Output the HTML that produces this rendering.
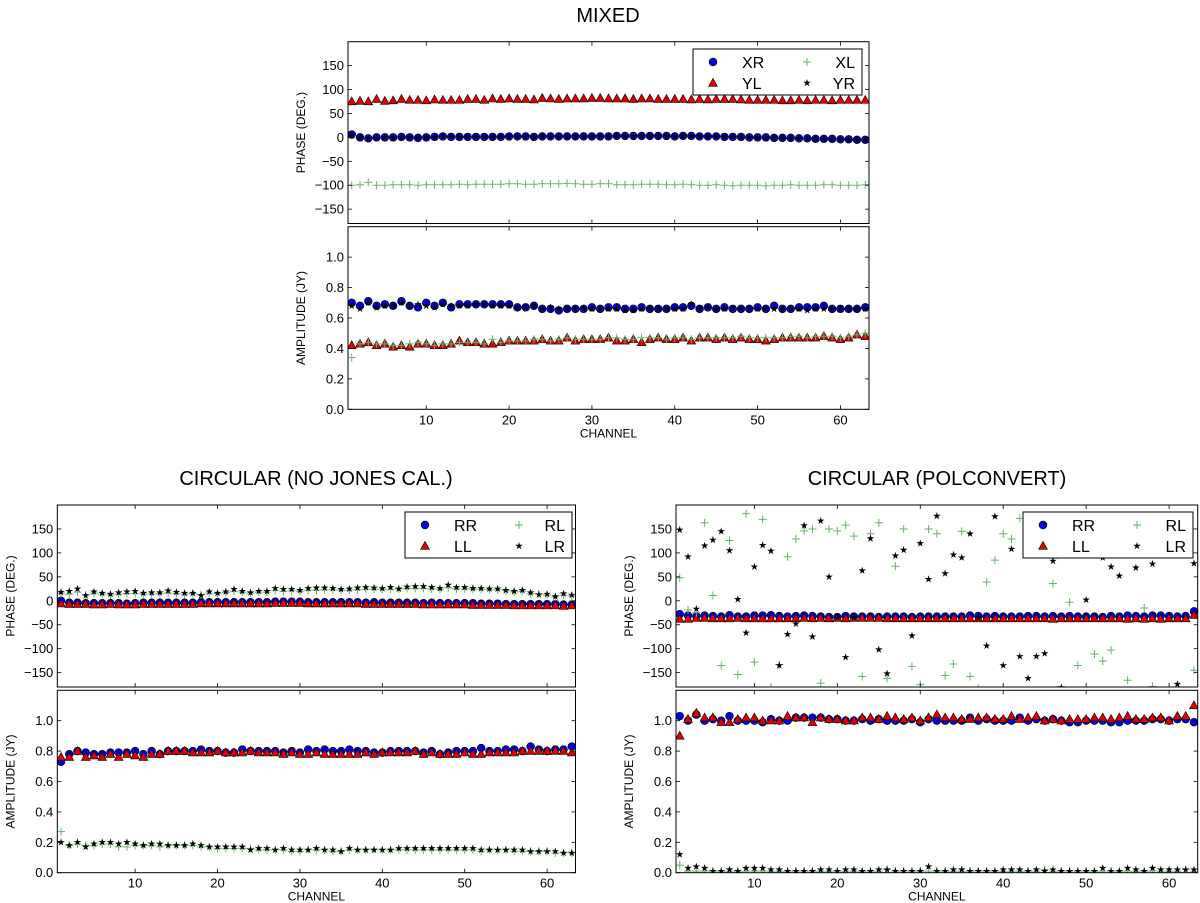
<!DOCTYPE html>
<html><head><meta charset="utf-8"><style>
body{margin:0;background:#fff;}
svg{display:block;font-family:"Liberation Sans","DejaVu Sans",sans-serif;}
</style></head><body>
<svg id="fig" width="1200" height="903" viewBox="0 0 1200 903" xmlns="http://www.w3.org/2000/svg">
<rect width="1200" height="903" fill="#fff"/>
<text x="608" y="22" font-size="20" text-anchor="middle">MIXED</text>
<text x="316" y="485" font-size="20" text-anchor="middle">CIRCULAR (NO JONES CAL.)</text>
<text x="937" y="485" font-size="20" text-anchor="middle">CIRCULAR (POLCONVERT)</text>
</svg>
<script>
const channels = Array.from({length:63},(_,i)=>i+1);
const phaseTicks = [-150,-100,-50,0,50,100,150];
const ampTicks = [0.0,0.2,0.4,0.6,0.8,1.0];
const xTicks = [10,20,30,40,50,60];

// MIXED
const mixXRphase=[6,0,-2,0,0,0,1,0,-1,0,1,2,1,1,1,1,1,1,1,2,2,2,1,2,2,2,2,2,2,2,2,2,3,3,3,3,3,3,3,2,3,3,2,2,2,1,1,1,0,0,0,-1,-1,-1,-2,-2,-3,-3,-3,-4,-4,-5,-5];
const mixYRphase=[4,-1,-2,-1,0,-1,0,0,-1,0,0,1,1,1,0,1,1,0,1,1,2,1,1,2,1,2,1,2,2,1,2,2,2,3,2,3,2,3,2,2,3,2,2,1,2,1,1,0,0,0,-1,-1,-1,-2,-2,-3,-3,-3,-4,-4,-5,-5,-6];
const mixYLphase=[75,76,75,80,76,77,80,78,78,77,79,78,78,78,80,80,78,81,80,81,80,80,79,82,81,80,81,81,81,82,82,81,81,81,80,81,81,80,80,80,80,79,80,79,80,80,80,79,78,78,78,78,77,77,78,77,78,78,77,78,78,78,78];
const mixXLphase=[-100,-99,-94,-100,-100,-99,-99,-99,-100,-99,-99,-99,-99,-98,-99,-98,-98,-98,-98,-97,-97,-98,-98,-97,-97,-97,-96,-97,-98,-98,-97,-97,-99,-99,-99,-98,-98,-98,-99,-99,-98,-99,-100,-100,-99,-100,-101,-100,-100,-100,-101,-100,-100,-99,-100,-100,-100,-99,-99,-100,-100,-100,-99];
const mixXRamp=[0.70,0.68,0.71,0.68,0.69,0.68,0.71,0.68,0.67,0.70,0.68,0.70,0.67,0.69,0.69,0.69,0.69,0.69,0.69,0.69,0.67,0.67,0.68,0.66,0.66,0.65,0.66,0.66,0.66,0.67,0.66,0.67,0.67,0.66,0.66,0.67,0.66,0.66,0.66,0.67,0.67,0.68,0.66,0.67,0.66,0.67,0.66,0.66,0.66,0.67,0.66,0.68,0.66,0.66,0.67,0.67,0.67,0.68,0.66,0.66,0.66,0.66,0.67];
const mixYRamp=[0.68,0.66,0.70,0.67,0.68,0.68,0.70,0.68,0.69,0.68,0.67,0.69,0.68,0.68,0.68,0.69,0.69,0.68,0.68,0.68,0.67,0.67,0.68,0.66,0.67,0.66,0.66,0.66,0.66,0.66,0.66,0.66,0.66,0.65,0.65,0.66,0.66,0.66,0.66,0.66,0.66,0.69,0.66,0.67,0.66,0.66,0.66,0.66,0.66,0.66,0.66,0.66,0.66,0.66,0.66,0.65,0.66,0.66,0.66,0.66,0.66,0.66,0.66];
const mixYLamp=[0.42,0.43,0.44,0.42,0.43,0.41,0.42,0.41,0.43,0.43,0.42,0.42,0.43,0.45,0.44,0.44,0.43,0.43,0.44,0.45,0.45,0.45,0.45,0.46,0.45,0.45,0.47,0.45,0.46,0.46,0.46,0.47,0.45,0.45,0.46,0.44,0.46,0.47,0.46,0.46,0.47,0.45,0.47,0.47,0.46,0.47,0.46,0.47,0.46,0.46,0.45,0.46,0.47,0.47,0.47,0.47,0.47,0.48,0.47,0.46,0.47,0.49,0.48];
const mixXLamp=[0.34,0.43,0.44,0.43,0.43,0.42,0.42,0.43,0.44,0.43,0.42,0.43,0.43,0.44,0.44,0.44,0.43,0.46,0.44,0.45,0.45,0.45,0.46,0.46,0.45,0.46,0.47,0.46,0.46,0.46,0.46,0.47,0.47,0.46,0.46,0.47,0.47,0.47,0.46,0.47,0.47,0.46,0.47,0.47,0.47,0.47,0.47,0.48,0.47,0.47,0.47,0.47,0.47,0.48,0.48,0.47,0.48,0.48,0.48,0.47,0.48,0.49,0.50];

// CIRCULAR NO JONES
const njRRphase=[0,-4,-4,-5,-5,-5,-5,-5,-6,-5,-4,-4,-4,-4,-4,-4,-4,-3,-3,-3,-3,-3,-3,-3,-3,-3,-2,-2,-2,-2,-3,-3,-3,-3,-3,-3,-3,-4,-3,-4,-4,-4,-4,-4,-5,-4,-5,-5,-5,-5,-5,-6,-6,-6,-7,-7,-7,-7,-7,-7,-7,-8,-8];
const njLLphase=[-6,-7,-7,-7,-8,-8,-7,-8,-8,-8,-7,-7,-7,-7,-7,-7,-7,-6,-6,-6,-6,-6,-6,-6,-6,-6,-5,-5,-5,-5,-6,-6,-6,-6,-6,-6,-6,-7,-7,-7,-7,-7,-7,-7,-8,-8,-8,-8,-8,-8,-9,-9,-9,-9,-9,-10,-10,-10,-10,-10,-10,-11,-10];
const njLRphase=[18,20,25,11,19,16,14,17,19,20,16,17,17,21,18,16,16,11,19,16,19,24,20,17,20,20,26,24,24,22,26,27,27,26,24,25,27,28,27,26,28,25,29,30,30,28,26,33,28,28,26,26,25,25,22,20,22,17,13,14,9,15,12];
const njRLphase=[16,14,18,12,16,14,12,14,15,15,14,14,15,16,15,14,15,13,16,15,17,20,18,16,18,18,22,20,21,20,22,22,23,23,22,22,23,24,24,24,24,25,26,26,26,25,24,27,25,25,24,24,23,23,21,19,20,15,14,12,8,12,10];
const njRRamp=[0.73,0.78,0.80,0.79,0.78,0.78,0.79,0.79,0.79,0.80,0.78,0.80,0.78,0.80,0.80,0.80,0.80,0.81,0.80,0.80,0.79,0.79,0.81,0.80,0.80,0.80,0.80,0.79,0.80,0.79,0.81,0.80,0.81,0.80,0.80,0.81,0.80,0.80,0.79,0.79,0.80,0.80,0.80,0.80,0.79,0.80,0.78,0.79,0.80,0.80,0.80,0.82,0.80,0.80,0.81,0.81,0.80,0.83,0.81,0.80,0.81,0.81,0.83];
const njLLamp=[0.76,0.76,0.80,0.76,0.77,0.76,0.78,0.76,0.78,0.77,0.76,0.78,0.78,0.80,0.80,0.80,0.79,0.79,0.79,0.80,0.79,0.79,0.79,0.80,0.79,0.79,0.79,0.78,0.79,0.78,0.78,0.79,0.78,0.78,0.78,0.78,0.78,0.79,0.78,0.79,0.79,0.79,0.79,0.80,0.78,0.79,0.78,0.78,0.78,0.79,0.78,0.78,0.79,0.79,0.79,0.79,0.80,0.80,0.80,0.80,0.80,0.80,0.79];
const njLRamp=[0.20,0.18,0.20,0.17,0.19,0.20,0.20,0.19,0.20,0.19,0.18,0.19,0.19,0.18,0.18,0.18,0.19,0.18,0.17,0.17,0.17,0.17,0.17,0.15,0.16,0.16,0.15,0.16,0.15,0.15,0.15,0.16,0.15,0.15,0.14,0.16,0.15,0.15,0.15,0.15,0.15,0.16,0.16,0.16,0.16,0.16,0.16,0.16,0.16,0.16,0.16,0.15,0.15,0.15,0.15,0.15,0.15,0.14,0.14,0.14,0.14,0.13,0.13];
const njRLamp=[0.27,0.18,0.19,0.18,0.18,0.19,0.19,0.17,0.17,0.18,0.18,0.18,0.17,0.18,0.18,0.18,0.18,0.17,0.17,0.16,0.16,0.16,0.16,0.16,0.15,0.15,0.15,0.15,0.14,0.14,0.15,0.15,0.15,0.14,0.14,0.15,0.15,0.15,0.15,0.15,0.15,0.15,0.15,0.15,0.15,0.15,0.15,0.15,0.15,0.15,0.15,0.14,0.15,0.15,0.15,0.14,0.14,0.14,0.14,0.14,0.13,0.13,0.13];

// CIRCULAR POLCONVERT
const pcRRphase=[-28,-31,-32,-31,-32,-33,-30,-33,-33,-31,-31,-30,-32,-33,-32,-31,-32,-33,-34,-34,-32,-33,-33,-33,-34,-33,-33,-33,-34,-33,-33,-33,-33,-33,-33,-31,-32,-33,-32,-33,-33,-33,-32,-32,-33,-32,-33,-32,-33,-33,-33,-34,-32,-33,-31,-32,-33,-31,-31,-32,-33,-32,-22];
const pcLLphase=[-38,-38,-36,-36,-37,-37,-37,-36,-37,-37,-37,-37,-37,-37,-37,-36,-37,-36,-37,-36,-37,-36,-36,-36,-36,-37,-37,-37,-37,-37,-37,-37,-37,-37,-37,-37,-37,-37,-37,-37,-37,-37,-37,-37,-37,-38,-37,-37,-37,-37,-37,-37,-37,-37,-38,-37,-38,-37,-38,-37,-37,-37,-30];
const pcLRphase=[148,92,-17,115,127,145,105,3,-67,71,116,104,-135,-70,-48,157,-75,167,50,-35,-118,-35,63,130,-102,-152,94,106,-73,120,45,177,57,96,90,140,-35,-94,176,-135,108,-116,-162,-116,-110,83,-181,150,150,2,150,90,71,52,150,69,150,77,150,150,-174,150,78];
const pcRLphase=[48,-19,-25,163,11,-135,126,-154,182,-128,170,-180,-133,92,129,146,150,-172,150,146,158,135,-158,140,163,-162,72,150,-137,-175,150,140,-156,-132,145,-158,-183,39,85,140,129,172,150,150,150,36,-185,-3,-135,150,-111,-126,-103,150,-166,150,-15,-179,150,150,150,150,-145];
const pcRRamp=[1.03,1.00,1.04,1.00,1.01,1.00,1.03,1.00,1.00,1.00,0.99,1.01,1.00,1.00,1.02,1.02,1.02,1.02,1.01,1.01,1.00,1.00,1.01,1.00,1.01,1.00,1.00,1.00,1.01,0.99,1.01,1.00,1.00,1.00,1.00,1.02,1.00,1.01,1.00,1.00,1.00,1.02,1.00,1.01,1.00,1.01,1.00,0.99,0.99,1.00,1.00,1.00,0.99,0.99,1.00,1.00,1.00,1.01,1.01,1.00,1.01,1.01,0.99];
const pcLLamp=[0.90,1.01,1.05,1.02,1.02,0.99,0.99,1.01,1.02,1.02,1.00,1.00,1.00,1.03,1.02,1.02,0.99,1.02,1.01,1.01,1.00,1.00,1.02,1.02,1.01,1.03,1.02,1.01,1.02,1.00,1.02,1.04,1.02,1.02,1.01,1.01,1.02,1.02,1.01,1.01,1.03,1.01,1.02,1.03,1.00,1.01,1.00,1.01,1.01,1.01,1.02,1.02,1.01,1.02,1.03,1.01,1.01,1.02,1.02,1.00,1.03,1.03,1.10];
const pcLRamp=[0.12,0.03,0.04,0.03,0.01,0.01,0.02,0.01,0.03,0.03,0.03,0.02,0.02,0.01,0.01,0.01,0.01,0.02,0.02,0.01,0.02,0.02,0.01,0.01,0.02,0.02,0.01,0.01,0.01,0.01,0.04,0.01,0.01,0.02,0.02,0.01,0.01,0.01,0.01,0.02,0.02,0.02,0.01,0.02,0.01,0.02,0.01,0.01,0.01,0.01,0.01,0.03,0.01,0.01,0.03,0.02,0.01,0.03,0.02,0.02,0.02,0.02,0.02];
const pcRLamp=[0.05,0.01,0.01,0.01,0.01,0.01,0.01,0.01,0.01,0.01,0.01,0.01,0.01,0.01,0.01,0.01,0.01,0.01,0.01,0.01,0.01,0.01,0.01,0.01,0.01,0.02,0.01,0.01,0.01,0.01,0.01,0.01,0.01,0.01,0.01,0.01,0.01,0.01,0.01,0.01,0.01,0.01,0.01,0.01,0.02,0.01,0.01,0.01,0.01,0.01,0.01,0.01,0.01,0.01,0.01,0.01,0.01,0.01,0.01,0.01,0.01,0.02,0.01];

const NS="http://www.w3.org/2000/svg";
const svg=document.getElementById('fig');
function mk(tag,attrs,parent){const e=document.createElementNS(NS,tag);for(const k in attrs)e.setAttribute(k,attrs[k]);(parent||svg).appendChild(e);return e;}
let clipN=0;
function marker(kind,cx,cy,g){
  let e;
  if(kind==='circle'){e=mk('circle',{cx:cx,cy:cy,r:3.9,fill:'#0000e0',stroke:'#000','stroke-width':0.6},g);}
  else if(kind==='tri'){e=mk('polygon',{points:`${cx},${cy-4.6} ${cx-4.4},${cy+3.3} ${cx+4.4},${cy+3.3}`,fill:'#e00000',stroke:'#000','stroke-width':0.6},g);}
  else if(kind==='plus'){e=mk('path',{d:`M${cx-4},${cy}H${cx+4}M${cx},${cy-4}V${cy+4}`,stroke:'#66b366','stroke-width':1,fill:'none'},g);}
  else {let p=[];for(let i=0;i<10;i++){const r=i%2?1.5:4;const a=-Math.PI/2+i*Math.PI/5;p.push((cx+r*Math.cos(a)).toFixed(2)+','+(cy+r*Math.sin(a)).toFixed(2));}
    e=mk('polygon',{points:p.join(' '),fill:'#000'},g);}
  return e;
}
function axes(name,x0,x1,y0,y1,ymin,ymax,yticks,fmt,ylabel,series,showX){
  const xmin=0.55,xmax=63.45;
  const sx=v=>x0+(v-xmin)/(xmax-xmin)*(x1-x0);
  const sy=v=>y1-(v-ymin)/(ymax-ymin)*(y1-y0);
  const g=mk('g',{});
  
  
  const id='c'+(clipN++);
  const cp=mk('clipPath',{id:id},g);mk('rect',{x:x0,y:y0,width:x1-x0,height:y1-y0},cp);
  const dg=mk('g',{'clip-path':`url(#${id})`},g);
  series.forEach(s=>{
    const sg=mk('g',{},dg);
    
    
    s.data.forEach((v,i)=>{const m=marker(s.kind,sx(channels[i]),sy(v),sg);
      
      });
  });
  xTicks.forEach(t=>{const x=sx(t);
    mk('line',{x1:x,x2:x,y1:y1,y2:y1-4,stroke:'#000','stroke-width':0.8},g);
    mk('line',{x1:x,x2:x,y1:y0,y2:y0+4,stroke:'#000','stroke-width':0.8},g);
    if(showX){const tl=mk('text',{x:x,y:y1+15,'font-size':13,'text-anchor':'middle'},g);tl.textContent=t;
      
      }
  });
  yticks.forEach(t=>{const y=sy(t);
    mk('line',{x1:x0,x2:x0+4,y1:y,y2:y,stroke:'#000','stroke-width':0.8},g);
    mk('line',{x1:x1,x2:x1-4,y1:y,y2:y,stroke:'#000','stroke-width':0.8},g);
    const tl=mk('text',{x:x0-4,y:y+4.5,'font-size':13,'text-anchor':'end'},g);tl.textContent=fmt(t);
    
    
  });
  mk('rect',{x:x0,y:y0,width:x1-x0,height:y1-y0,fill:'none',stroke:'#000','stroke-width':1},g);
  const yl=mk('text',{x:0,y:0,'font-size':12,'text-anchor':'middle',transform:`translate(${x0-43},${(y0+y1)/2}) rotate(-90)`},g);
  yl.textContent=ylabel;
  
  
  if(showX){const xl=mk('text',{x:(x0+x1)/2,y:y1+28,'font-size':12,'text-anchor':'middle'},g);xl.textContent='CHANNEL';
    
    }
  return g;
}
function legend(x,y,w,labels){
  const g=mk('g',{});
  
  
  mk('rect',{x:x,y:y,width:w,height:46,fill:'#fff',stroke:'#000','stroke-width':1},g);
  const kinds=['circle','tri','plus','star'];
  const pos=[[x+20,y+13,x+49,0],[x+20,y+34,x+49,0],[x+114,y+13,x+w-7,1],[x+114,y+34,x+w-7,1]];
  labels.forEach((l,i)=>{const p=pos[i];
    const m=marker(kinds[i],p[0],p[1],g);
    
    
    const t=mk('text',{x:p[2],y:p[1]+6,'font-size':16,'text-anchor':p[3]?'end':'start'},g);t.textContent=l;
    
    });
}
const pf=t=>t<0?'\u2212'+Math.abs(t):String(t);
const af=t=>t.toFixed(1);
axes('mixed-phase-panel',348,869,41.7,223.5,-180,200,phaseTicks,pf,'PHASE (DEG.)',[
 {name:'xr-phase',kind:'circle',data:mixXRphase},{name:'yl-phase',kind:'tri',data:mixYLphase},
 {name:'xl-phase',kind:'plus',data:mixXLphase},{name:'yr-phase',kind:'star',data:mixYRphase}],false);
legend(693,49,169,['XR','YL','XL','YR']);
axes('mixed-amplitude-panel',348,869,226.7,409.3,0,1.2,ampTicks,af,'AMPLITUDE (JY)',[
 {name:'xr-amp',kind:'circle',data:mixXRamp},{name:'yl-amp',kind:'tri',data:mixYLamp},
 {name:'xl-amp',kind:'plus',data:mixXLamp},{name:'yr-amp',kind:'star',data:mixYRamp}],true);
axes('nojones-phase-panel',57.3,575.5,505,687,-180,200,phaseTicks,pf,'PHASE (DEG.)',[
 {name:'rr-phase',kind:'circle',data:njRRphase},{name:'ll-phase',kind:'tri',data:njLLphase},
 {name:'rl-phase',kind:'plus',data:njRLphase},{name:'lr-phase',kind:'star',data:njLRphase}],false);
legend(405,512,167,['RR','LL','RL','LR']);
axes('nojones-amplitude-panel',57.3,575.5,690.3,872.7,0,1.2,ampTicks,af,'AMPLITUDE (JY)',[
 {name:'rr-amp',kind:'circle',data:njRRamp},{name:'ll-amp',kind:'tri',data:njLLamp},
 {name:'rl-amp',kind:'plus',data:njRLamp},{name:'lr-amp',kind:'star',data:njLRamp}],true);
axes('polconvert-phase-panel',676,1197.7,505,687,-180,200,phaseTicks,pf,'PHASE (DEG.)',[
 {name:'rr-phase',kind:'circle',data:pcRRphase},{name:'ll-phase',kind:'tri',data:pcLLphase},
 {name:'rl-phase',kind:'plus',data:pcRLphase},{name:'lr-phase',kind:'star',data:pcLRphase}],false);
legend(1023,512,170,['RR','LL','RL','LR']);
axes('polconvert-amplitude-panel',676,1197.7,690.3,872.7,0,1.2,ampTicks,af,'AMPLITUDE (JY)',[
 {name:'rr-amp',kind:'circle',data:pcRRamp},{name:'ll-amp',kind:'tri',data:pcLLamp},
 {name:'rl-amp',kind:'plus',data:pcRLamp},{name:'lr-amp',kind:'star',data:pcLRamp}],true);
</script>
</body></html>
